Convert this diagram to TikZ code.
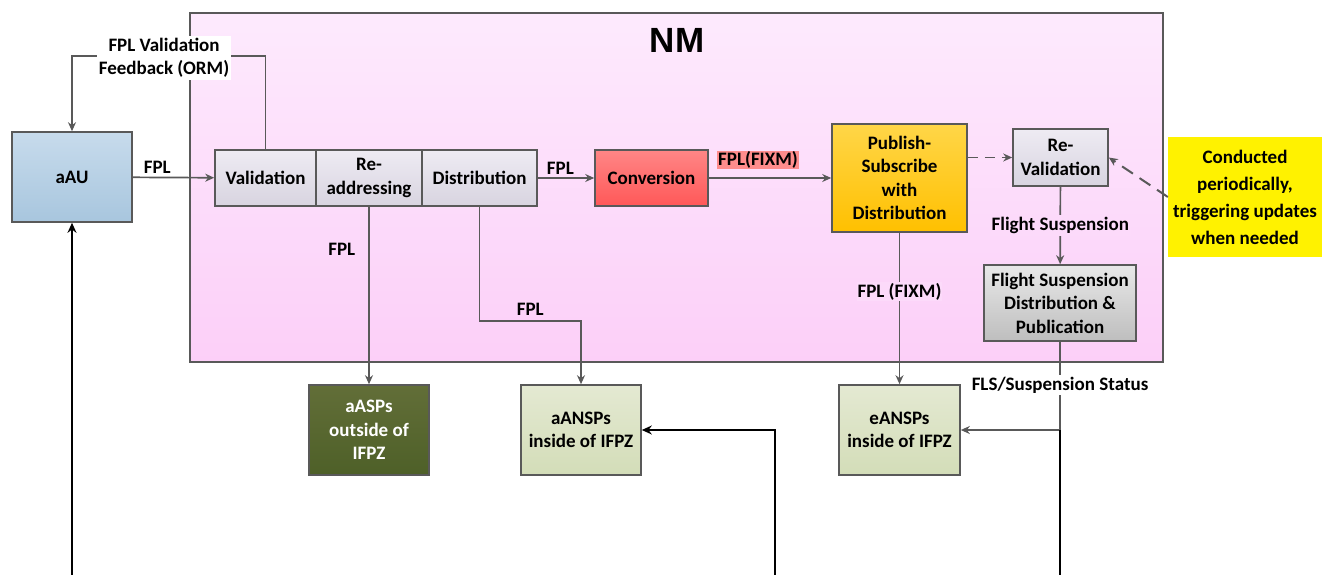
\documentclass[tikz,border=0pt]{standalone}
\usepackage{fontspec}
\setmainfont{Carlito}
\newfontfamily\titlefont{Liberation Sans}
\usetikzlibrary{positioning, arrows.meta, calc}
\definecolor{nmtop}{RGB}{253,234,253}
\definecolor{nmbot}{RGB}{252,207,248}
\definecolor{nmlbl}{RGB}{252,218,250}
\definecolor{edgegray}{RGB}{89,89,89}
\definecolor{lavtop}{RGB}{238,235,243}
\definecolor{lavbot}{RGB}{216,212,224}
\definecolor{aautop}{RGB}{199,219,236}
\definecolor{aaubot}{RGB}{168,198,222}
\definecolor{convtop}{RGB}{255,134,134}
\definecolor{convbot}{RGB}{255,88,88}
\definecolor{pubtop}{RGB}{255,214,72}
\definecolor{pubbot}{RGB}{255,192,0}
\definecolor{fstop}{RGB}{232,232,232}
\definecolor{fsbot}{RGB}{190,190,190}
\definecolor{olivetop}{RGB}{98,110,56}
\definecolor{olivebot}{RGB}{78,96,40}
\definecolor{sagetop}{RGB}{228,233,210}
\definecolor{sagebot}{RGB}{211,221,184}
\definecolor{fixmred}{RGB}{255,140,140}

\begin{document}
\begin{tikzpicture}[
    x=1pt, y=-1pt,
    font=\fontsize{19}{23.5}\selectfont\bfseries,
    box/.style = {draw=edgegray, line width=1.6pt, align=center,
                  inner sep=0pt, top color=lavtop, bottom color=lavbot},
    arr/.style = {-{Stealth[length=9pt,width=8pt]}, line width=1.7pt, draw=edgegray},
    blk/.style = {-{Stealth[length=10pt,width=9pt]}, line width=2.5pt, draw=black},
    lbl/.style = {inner sep=1pt, text=black},
  ]
    \useasboundingbox (0,0) rectangle (1322,575);
    % NM frame
    \node[draw=edgegray, line width=1.6pt, top color=nmtop, bottom color=nmbot,
          minimum width=973pt, minimum height=349pt, inner sep=0pt] (nm) at (676.5,187.5) {};
    \node[font=\titlefont\fontsize{35}{40}\selectfont\bfseries] (nmtitle) at (677,40) {NM};

    % boxes
    \node[box, top color=aautop, bottom color=aaubot,
          minimum width=120pt, minimum height=90pt] (aau) at (72,177) {aAU};
    \node[box, minimum width=101pt, minimum height=56pt] (valid) at (265.5,178) {Validation};
    \node[box, minimum width=106pt, minimum height=56pt] (readdr) at (369,178) {Re-\\addressing};
    \node[box, minimum width=115pt, minimum height=56pt] (distr) at (479.5,178) {Distribution};
    \node[box, top color=convtop, bottom color=convbot,
          minimum width=113pt, minimum height=56pt] (conv) at (651.5,178) {Conversion};
    \node[box, top color=pubtop, bottom color=pubbot,
          minimum width=135pt, minimum height=108pt] (pubsub) at (899.5,178)
      {Publish-\\Subscribe\\with\\Distribution};
    \node[box, minimum width=95pt, minimum height=57pt] (reval) at (1060.5,157.5) {Re-\\Validation};
    \node[box, top color=fstop, bottom color=fsbot,
          minimum width=152pt, minimum height=76pt] (fsdist) at (1060,303)
      {Flight Suspension\\Distribution \&\\Publication};
    \node[fill=yellow, inner sep=0pt, align=center,
          font=\fontsize{19}{27}\selectfont\bfseries,
          minimum width=154pt, minimum height=120pt] (note) at (1245,197)
      {Conducted\\periodically,\\triggering updates\\when needed};
    \node[box, top color=olivetop, bottom color=olivebot, text=white,
          minimum width=120pt, minimum height=90pt] (aasps) at (369,430)
      {aASPs\\outside of\\IFPZ};
    \node[box, top color=sagetop, bottom color=sagebot,
          minimum width=120pt, minimum height=90pt] (aansps) at (581,430)
      {aANSPs\\inside of IFPZ};
    \node[box, top color=sagetop, bottom color=sagebot,
          minimum width=121pt, minimum height=90pt] (eansps) at (899.5,430)
      {eANSPs\\inside of IFPZ};

    % connectors inside NM
    \coordinate (fbtop) at (0,56);
    \draw[arr] (aau) -- node[lbl, pos=0.3, above=2pt] (lfpl1) {FPL} (valid);
    \draw[arr] (valid.north) -- (valid.north |- fbtop) -- (aau.north |- fbtop) -- (aau.north);
    \node[fill=white, align=center, inner sep=2pt] (fb) at (164,58) {FPL Validation\\Feedback (ORM)};
    \draw[arr] (distr) -- node[lbl, pos=0.4, above=2pt] (lfpl2) {FPL} (conv);
    \draw[arr] (conv) -- (pubsub);
    \node[fill=fixmred, inner sep=1pt] (fixm) at (758,160) {FPL(FIXM)};
    \draw[arr, dash pattern=on 10pt off 7pt] (pubsub.east |- reval.west) -- (reval.west);
    \draw[arr, line width=2pt, dash pattern=on 13pt off 8pt] (note.west) -- (reval.east);
    \draw[arr] (reval) -- node[lbl, midway, fill=nmlbl, inner sep=2pt] (lfs) {Flight Suspension} (fsdist);

    % connectors to the ANSPs
    \coordinate (dstep) at (0,321);
    \draw[arr] (readdr.south) -- node[lbl, pos=0.24, left=12pt] (lfpl3) {FPL} (aasps.north);
    \draw[arr] (distr.south) -- (distr.south |- dstep) -| node[lbl, pos=0.25, above=4pt] (lfpl4) {FPL} (aansps.north);
    \draw[arr] (pubsub.south) -- node[lbl, pos=0.39, fill=nmlbl] (lfixm) {FPL (FIXM)} (eansps.north);
    \draw[arr] (fsdist.south) -- (fsdist.south |- eansps.east) -- (eansps.east);
    \node[fill=white, inner sep=2pt] (lfls) at (1060,385) {FLS/Suspension Status};

    % incoming lines from below
    \coordinate (in1) at (72,575);
    \coordinate (in2) at (775,575);
    \coordinate (in3) at (1060,575);
    \draw[blk] (in1) -- (aau.south);
    \draw[blk] (in2) |- (aansps.east);
    \draw[line width=2.5pt] (in3) -- (fsdist.south |- eansps.east);
\end{tikzpicture}
\end{document}
